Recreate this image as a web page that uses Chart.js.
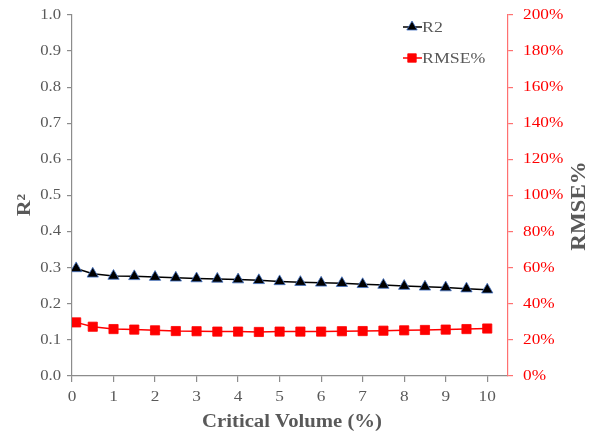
<!DOCTYPE html>
<html>
<head>
<meta charset="utf-8">
<script src="https://cdn.jsdelivr.net/npm/chart.js@4/dist/chart.umd.min.js"></script>
<style>
html,body{margin:0;padding:0;background:#fff;}
#wrap{width:593px;height:434px;position:relative;}
</style>
</head>
<body>
<div id="wrap"><canvas id="c" width="593" height="434"></canvas></div>
<script>
const criticalVolume = [0.1, 0.5, 1, 1.5, 2, 2.5, 3, 3.5, 4, 4.5, 5, 5.5, 6, 6.5, 7, 7.5, 8, 8.5, 9, 9.5, 10];
const r2Values = [0.298, 0.283, 0.277, 0.276, 0.274, 0.272, 0.270, 0.269, 0.267, 0.265, 0.262, 0.260, 0.258, 0.257, 0.254, 0.252, 0.249, 0.247, 0.245, 0.242, 0.239];
const rmseValues = [29.7, 27.3, 26.0, 25.7, 25.3, 24.9, 24.8, 24.6, 24.6, 24.4, 24.6, 24.6, 24.6, 24.8, 24.9, 25.1, 25.3, 25.5, 25.7, 26.0, 26.3];
const xTickValues = [0, 1, 2, 3, 4, 5, 6, 7, 8, 9, 10];
const leftTickValues = [0, 0.1, 0.2, 0.3, 0.4, 0.5, 0.6, 0.7, 0.8, 0.9, 1.0];
const rightTickValues = [0, 20, 40, 60, 80, 100, 120, 140, 160, 180, 200];
const seriesNames = ['R2', 'RMSE%'];
const axisTitles = { x: 'Critical Volume (%)', yLeft: 'R²', yRight: 'RMSE%' };

const GRAY = '#595959';
const AXIS_GRAY = '#8c8c8c';
const RED = '#ff0000';
const RED_LINE = '#ff7070';
const FONT = "'Liberation Serif', 'Times New Roman', serif";

const canvas = document.getElementById('c');
const ctx0 = canvas.getContext('2d');
// Slightly wide text rendering, as in the reference
const origFillText = ctx0.fillText;
ctx0.fillText = function (text, x, y) {
  this.save();
  this.translate(x, y);
  this.scale(1.15, 1);
  origFillText.call(this, text, 0, 0);
  this.restore();
};

const overlayPlugin = {
  id: 'overlay',
  afterDraw(chart) {
    const ctx = chart.ctx;
    const area = chart.chartArea;
    ctx.save();
    ctx.fillStyle = GRAY;
    ctx.textAlign = 'center';
    ctx.textBaseline = 'middle';
    ctx.font = "bold 18px " + FONT;
    ctx.fillText(axisTitles.x, (area.left + area.right) / 2 + 2, 422);
    ctx.save();
    ctx.translate(25, 205);
    ctx.rotate(-Math.PI / 2);
    ctx.font = "bold 19px " + FONT;
    ctx.fillText(axisTitles.yLeft, 0, 0);
    ctx.restore();
    ctx.save();
    ctx.translate(580, 206);
    ctx.rotate(-Math.PI / 2);
    ctx.font = "bold 20px " + FONT;
    ctx.fillText(axisTitles.yRight, 0, 0);
    ctx.restore();

    const items = [
      { label: seriesNames[0], y: 27, line: '#000', style: 'triangle', fill: '#000', border: '#4472c4' },
      { label: seriesNames[1], y: 58, line: RED, style: 'rect', fill: RED, border: RED }
    ];
    items.forEach(it => {
      ctx.strokeStyle = it.line;
      ctx.lineWidth = 1.5;
      ctx.beginPath();
      ctx.moveTo(403, it.y);
      ctx.lineTo(422, it.y);
      ctx.stroke();
      ctx.fillStyle = it.fill;
      ctx.strokeStyle = it.border;
      ctx.lineWidth = 0.8;
      Chart.helpers.drawPoint(ctx, { pointStyle: it.style, radius: 6, borderWidth: 0.8 }, 412, it.y);
      ctx.fillStyle = GRAY;
      ctx.font = "15.5px " + FONT;
      ctx.textBaseline = 'middle';
      ctx.textAlign = 'left';
      ctx.fillText(it.label, 422, it.y + 1);
    });
    ctx.restore();
  }
};

new Chart(canvas, {
  type: 'line',
  data: {
    datasets: [
      {
        label: seriesNames[0],
        data: criticalVolume.map((x, i) => ({ x: x, y: r2Values[i] })),
        yAxisID: 'y',
        borderColor: '#000',
        borderWidth: 1.5,
        pointStyle: 'triangle',
        pointRadius: 6.5,
        pointBackgroundColor: '#000',
        pointBorderColor: '#4472c4',
        pointBorderWidth: 0.8,
        tension: 0
      },
      {
        label: seriesNames[1],
        data: criticalVolume.map((x, i) => ({ x: x, y: rmseValues[i] })),
        yAxisID: 'y2',
        borderColor: RED,
        borderWidth: 1.5,
        pointStyle: 'rect',
        pointRadius: 6.5,
        pointBackgroundColor: RED,
        pointBorderColor: RED,
        pointBorderWidth: 0.8,
        tension: 0
      }
    ]
  },
  options: {
    responsive: false,
    animation: false,
    layout: { padding: { top: 15, left: 0, right: 0, bottom: 0 } },
    plugins: { legend: { display: false }, tooltip: { enabled: false } },
    scales: {
      x: {
        type: 'linear',
        min: 0,
        max: 10.5,
        afterBuildTicks(scale) { scale.ticks = xTickValues.map(v => ({ value: v })); },
        afterFit(scale) { scale.height = 58; scale.paddingLeft = 0; scale.paddingRight = 0; },
        border: { display: true, color: AXIS_GRAY, width: 1.2 },
        grid: { drawOnChartArea: false, drawTicks: true, tickLength: 6, color: AXIS_GRAY, lineWidth: 1.2 },
        ticks: { color: GRAY, font: { family: FONT, size: 15 }, padding: 6, maxRotation: 0 }
      },
      y: {
        position: 'left',
        min: 0,
        max: 1,
        afterBuildTicks(scale) { scale.ticks = leftTickValues.map(v => ({ value: v })); },
        afterFit(scale) { scale.width = 72; scale.paddingTop = 0; scale.paddingBottom = 0; },
        border: { display: true, color: AXIS_GRAY, width: 1.2 },
        grid: { drawOnChartArea: false, drawTicks: true, tickLength: 5, color: AXIS_GRAY, lineWidth: 1.2 },
        ticks: { color: GRAY, font: { family: FONT, size: 14.5 }, padding: 6, callback: v => Number(v).toFixed(1) }
      },
      y2: {
        position: 'right',
        min: 0,
        max: 200,
        afterBuildTicks(scale) { scale.ticks = rightTickValues.map(v => ({ value: v })); },
        afterFit(scale) { scale.width = 85; scale.paddingTop = 0; scale.paddingBottom = 0; },
        border: { display: true, color: RED_LINE, width: 1.2 },
        grid: { drawOnChartArea: false, drawTicks: true, tickLength: 5, color: RED_LINE, lineWidth: 1.2 },
        ticks: { color: RED, font: { family: FONT, size: 15 }, padding: 10, callback: v => v + '%' }
      }
    }
  },
  plugins: [overlayPlugin]
});
</script>
</body>
</html>
